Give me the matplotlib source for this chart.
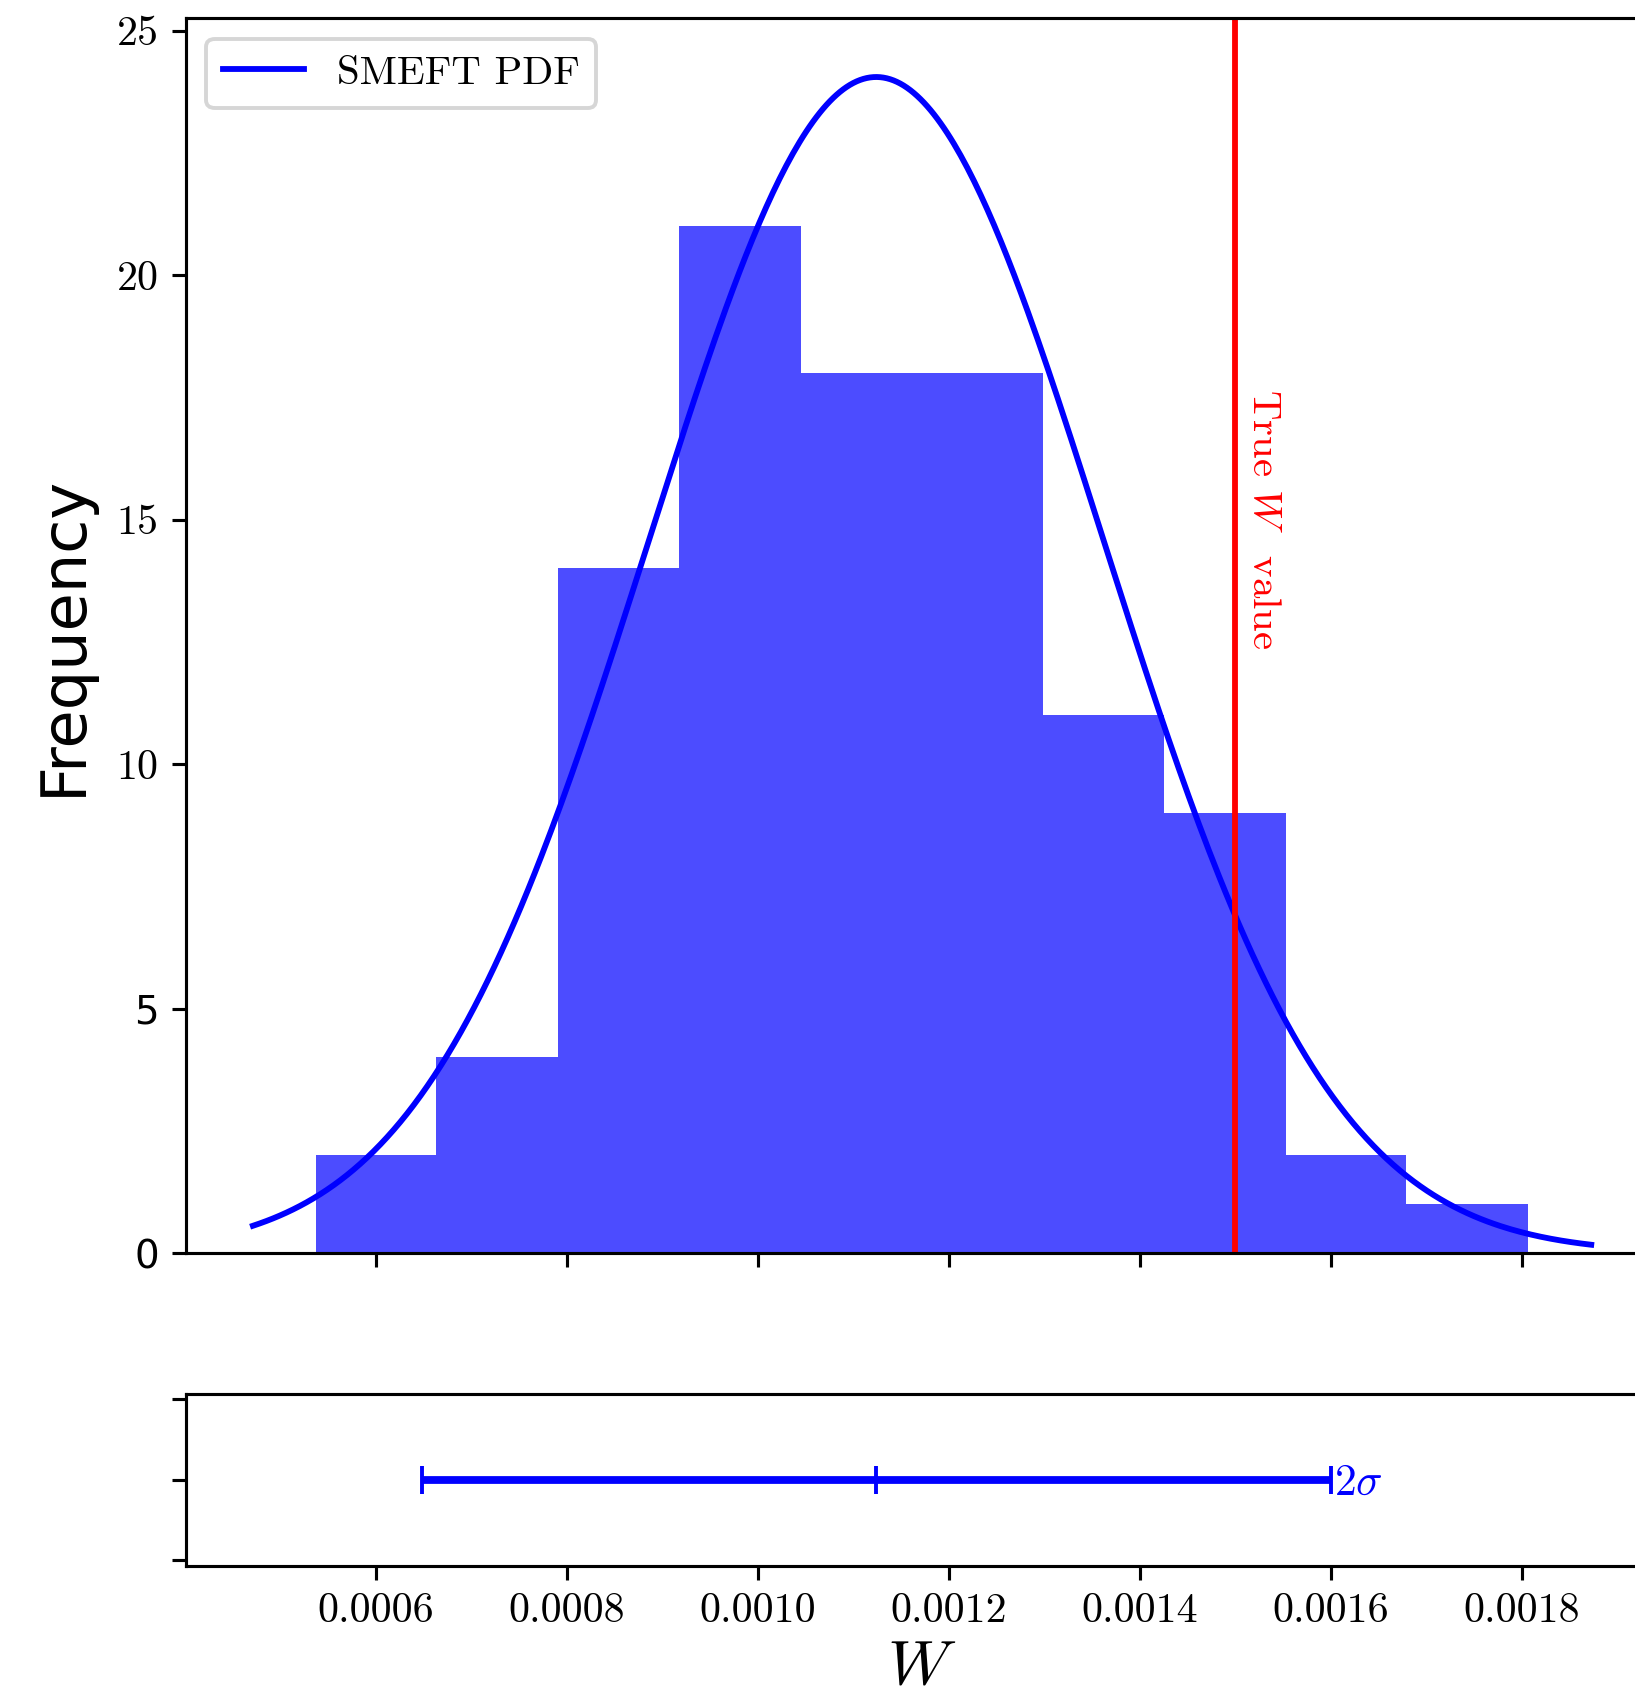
import numpy as np
import matplotlib
matplotlib.use("Agg")
import matplotlib.pyplot as plt

# ---- data ----
bin_edges = [0.000537, 0.000663, 0.000791, 0.000917, 0.001045, 0.001171,
             0.001299, 0.001425, 0.001553, 0.001679, 0.001807]
counts = [2, 4, 14, 21, 18, 18, 11, 9, 2, 1]
pdf_mean = 0.001124
pdf_sigma = 0.000238
pdf_peak = 24.05
pdf_xmin, pdf_xmax = 0.000471, 0.001873
true_w = 0.0015
x_ticks = [0.0006, 0.0008, 0.0010, 0.0012, 0.0014, 0.0016, 0.0018]
x_ticklabels = ["0.0006", "0.0008", "0.0010", "0.0012", "0.0014", "0.0016", "0.0018"]
y_ticks = [0, 5, 10, 15, 20, 25]
y_ticklabels = ["0", "5", "10", "15", "20", "25"]

plt.rcParams['mathtext.fontset'] = 'cm'
plt.rcParams['font.family'] = ['cmr10', 'DejaVu Sans']
plt.rcParams['axes.formatter.use_mathtext'] = True

FS = 10.8

fig = plt.figure(figsize=(1635/280, 1697/280), dpi=280)
ax = fig.add_axes([0.1138, 0.2616, 1.0141 - 0.1138, 0.9892 - 0.2616])
ax2 = fig.add_axes([0.1138, 0.0773, 1.0141 - 0.1138, 0.1787 - 0.0773], sharex=ax)

edges = np.array(bin_edges)
ax.bar(edges[:-1], counts, width=np.diff(edges), align='edge', color='blue', alpha=0.7, linewidth=0)

xs = np.linspace(pdf_xmin, pdf_xmax, 400)
ys = pdf_peak * np.exp(-0.5 * ((xs - pdf_mean) / pdf_sigma) ** 2)
ax.plot(xs, ys, color='blue', lw=1.5, label='SMEFT PDF')
ax.axvline(true_w, color='red', lw=1.5)
ax.text(true_w + 0.00001, 15, 'True $W$  value', color='red', rotation=-90,
        ha='left', va='center', fontsize=FS - 0.3)

ax.set_ylim(0, 25.25)
ax.set_yticks(y_ticks)
ax.set_yticklabels(y_ticklabels, fontsize=FS)
for lbl in ax.get_yticklabels():
    if lbl.get_text() in ('0', '5'):
        lbl.set_fontfamily('DejaVu Sans')
        lbl.set_fontsize(10)
ax.set_ylabel('Frequency', fontsize=16, family='DejaVu Sans', labelpad=6)
ax.tick_params(axis='x', labelbottom=False)
ax.legend(loc='upper left', fontsize=10.5)

ax2.errorbar([pdf_mean], [0], xerr=[2 * pdf_sigma], fmt='|', color='blue',
             lw=2, capsize=3.5, capthick=1, markersize=7, markeredgewidth=1)
ax2.text(pdf_mean + 2 * pdf_sigma + 0.000004, -0.05, r'$2\sigma$', color='blue',
         ha='left', va='center', fontsize=FS + 0.5)
ax2.set_ylim(-1.07, 1.07)
ax2.set_yticks([-1, 0, 1])
ax2.set_yticklabels([])
ax2.set_xlim(0.000401, 0.001943)
ax2.set_xticks(x_ticks)
ax2.set_xticklabels(x_ticklabels, fontsize=FS)
ax2.set_xlabel('$W$', fontsize=16.5, labelpad=2)

fig.savefig('out.png', dpi=280)
